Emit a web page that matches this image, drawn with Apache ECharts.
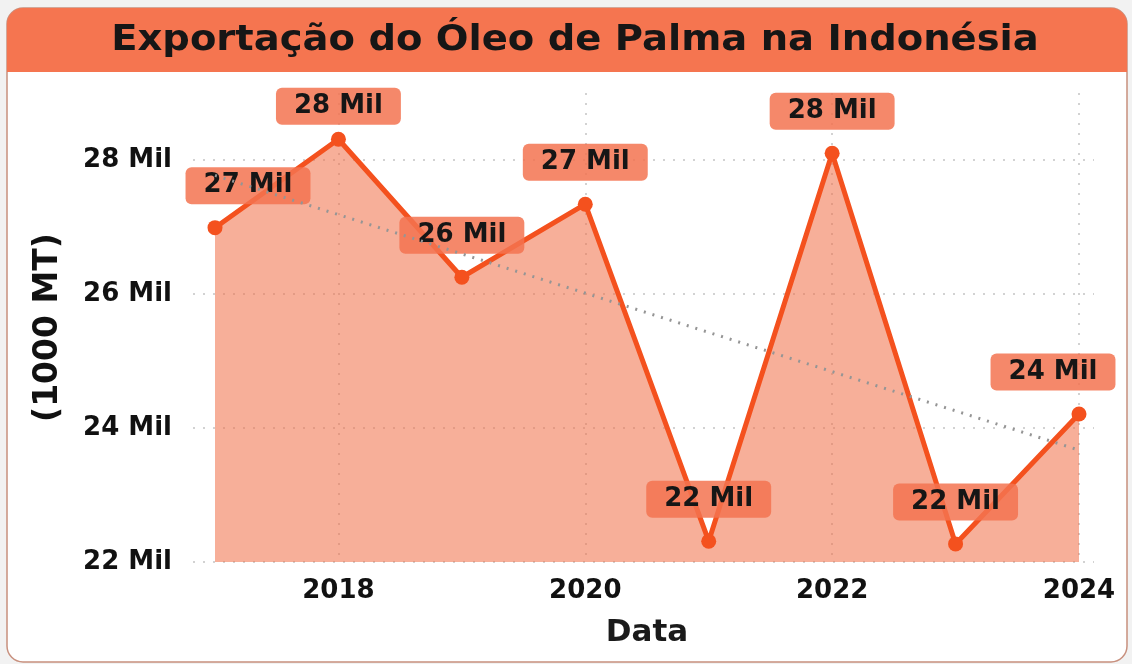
<!DOCTYPE html>
<html lang="pt">
<head>
    <meta charset="UTF-8">
    <script src="https://cdn.jsdelivr.net/npm/echarts@6/dist/echarts.min.js"></script>
    <style>
        html, body { margin: 0; padding: 0; background: #f2f2f2; }
        #chart { width: 1132px; height: 664px; }
    </style>
</head>
<body>
<div id="chart"></div>
<script type="text/javascript">

    // years on the x axis
    const years = ['2017', '2018', '2019', '2020', '2021', '2022', '2023', '2024'];
    // export volume (1000 MT)
    const exports = [26990, 28310, 26250, 27340, 22310, 28100, 22270, 24210];
    // trend line end points (2017, 2024)
    const trendEnds = [27770, 23670];
    // y axis range / step
    const yMin = 22000, yMax = 29000, yStep = 2000;

    const FONT = 'DejaVu Sans';
    const GRID_COLOR = ['#c4c4c4', '#c4c4c4', '#c4c4c4', '#c4c4c4', 'rgba(0,0,0,0)'];

    // label nudges: keep first / last boxes inside the plot, top one under the title
    const labelShift = { 0: [33, 0], 1: [0, 9], 7: [-26, 0] };

    let chart = echarts.init(document.getElementById('chart'));

    function milFmt(v) {
        return Math.round(v / 1000) + ' Mil';
    }

    let option = {
        backgroundColor: 'transparent',
        textStyle: { fontFamily: FONT },
        graphic: [
            {
                type: 'rect', z: -10,
                shape: { x: 7, y: 8, width: 1120, height: 654, r: 16 },
                style: { fill: '#ffffff', stroke: '#c8907e', lineWidth: 1.5 }
            },
            {
                type: 'rect', z: 0,
                shape: { x: 7, y: 8, width: 1120, height: 64, r: [16, 16, 0, 0] },
                style: { fill: '#f57550' }
            },
            {
                // title, stretched a little to match the wide face of the original
                type: 'text', z: 1,
                x: 575, y: 41,
                scaleX: 1.1,
                style: {
                    text: 'Exportação do Óleo de Palma na Indonésia',
                    font: 'bold 35px "DejaVu Sans"',
                    fill: '#161616',
                    align: 'center',
                    verticalAlign: 'middle'
                }
            }
        ],
        grid: [
            { left: 215, right: 53, top: 93, bottom: 102 },
            // wider grid only used for the horizontal guide lines
            { left: 193, right: 38, top: 93, bottom: 102 }
        ],
        xAxis: [
            {
                type: 'category',
                data: years,
                boundaryGap: false,
                name: 'Data',
                nameLocation: 'middle',
                nameGap: 55,
                nameTextStyle: { fontFamily: FONT, fontSize: 31, fontWeight: 'bold', color: '#1a1a1a' },
                axisLine: { show: false },
                axisTick: { show: false },
                axisLabel: {
                    interval: function (idx) { return idx % 2 === 1; },
                    fontSize: 26, fontWeight: 'bold', color: '#111', margin: 16
                },
                splitLine: {
                    show: true,
                    interval: function (idx) { return idx % 2 === 1; },
                    lineStyle: { color: '#c4c4c4', type: [2, 8], width: 1.5 }
                }
            },
            { type: 'value', gridIndex: 1, show: false, splitLine: { show: false } }
        ],
        yAxis: [
            {
                type: 'value',
                min: yMin,
                max: yMax,
                interval: yStep,
                name: '(1000 MT)',
                nameLocation: 'middle',
                nameGap: 150,
                nameRotate: 90,
                nameTextStyle: { fontFamily: FONT, fontSize: 33, fontWeight: 'bold', color: '#111' },
                axisLine: { show: false },
                axisTick: { show: false },
                axisLabel: {
                    showMaxLabel: false,
                    formatter: milFmt,
                    fontSize: 26, fontWeight: 'bold', color: '#111', margin: 43
                },
                splitLine: { show: false }
            },
            {
                type: 'value',
                gridIndex: 1,
                min: yMin,
                max: yMax,
                interval: yStep,
                axisLine: { show: false },
                axisTick: { show: false },
                axisLabel: { show: false },
                splitLine: {
                    show: true,
                    lineStyle: { color: GRID_COLOR, type: [2, 8], width: 1.5 }
                }
            }
        ],
        series: [
            {
                type: 'line',
                data: exports.map(function (v, i) {
                    let d = { value: v };
                    if (labelShift[i]) d.label = { offset: labelShift[i] };
                    return d;
                }),
                symbol: 'circle',
                symbolSize: 15,
                lineStyle: { color: '#f4511e', width: 5 },
                itemStyle: { color: '#f4511e' },
                areaStyle: { color: 'rgba(240,110,70,0.55)', origin: 'start', opacity: 1 },
                z: 3,
                label: {
                    show: true,
                    position: 'top',
                    distance: 16,
                    formatter: function (p) { return milFmt(p.value); },
                    fontFamily: FONT,
                    fontSize: 26,
                    lineHeight: 27,
                    fontWeight: 'bold',
                    color: '#161616',
                    backgroundColor: 'rgba(243,115,80,0.85)',
                    borderRadius: 6,
                    padding: [5, 18, 5, 18]
                },
                // dotted trend line
                markLine: {
                    silent: true,
                    symbol: 'none',
                    label: { show: false },
                    lineStyle: { color: '#959595', width: 3, type: [2, 7] },
                    data: [[
                        { coord: [years[0], trendEnds[0]] },
                        { coord: [years[years.length - 1], trendEnds[1]] }
                    ]]
                }
            }
        ]
    };

    chart.setOption(option);

</script>
</body>
</html>
